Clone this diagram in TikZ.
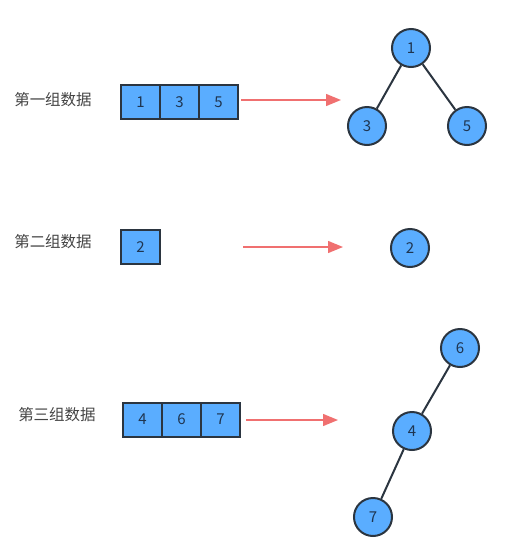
\documentclass[tikz,border=0pt]{standalone}
\usepackage{fontspec}
\setmainfont{Noto Sans CJK SC}
\usetikzlibrary{arrows.meta}
\definecolor{nodefill}{HTML}{5AADFF}
\definecolor{nodeline}{HTML}{2B3540}
\definecolor{arrowred}{HTML}{F07070}
\definecolor{labelgray}{HTML}{444444}
\definecolor{numcol}{HTML}{1F3550}
\tikzset{
  cell/.style={draw=nodeline, line width=2pt, fill=nodefill, minimum width=39pt, minimum height=34pt, inner sep=0pt, font=\fontsize{15}{15}\selectfont, text=numcol},
  treenode/.style={circle, draw=nodeline, line width=2pt, fill=nodefill, minimum size=38pt, inner sep=0pt, font=\fontsize{15}{15}\selectfont, text=numcol},
  grouplabel/.style={font=\fontsize{15.5}{15.5}\selectfont, text=labelgray},
  edge/.style={draw=nodeline, line width=2pt},
  redarrow/.style={draw=arrowred, line width=1.4pt, -{Triangle[length=15pt,width=12pt]}}
}
\begin{document}
\begin{tikzpicture}[x=1pt,y=-1pt]
\useasboundingbox (0,0) rectangle (508,555);
% group 1
\node[grouplabel] (l1) at (53,100) {第一组数据};
\node[cell] (a1) at (140.5,102) {1};
\node[cell] (a3) at (179.5,102) {3};
\node[cell] (a5) at (218.5,102) {5};
\coordinate (r1s) at (241,100);
\coordinate (r1e) at (341,100);
\draw[redarrow] (r1s) -- (r1e);
\node[treenode] (t1) at (411,48) {1};
\node[treenode] (t3) at (367,126) {3};
\node[treenode] (t5) at (467,126) {5};
\draw[edge] (t1) -- (t3);
\draw[edge] (t1) -- (t5);
% group 2
\node[grouplabel] (l2) at (53,242) {第二组数据};
\node[cell] (b2) at (140.5,247) {2};
\coordinate (r2s) at (243,247);
\coordinate (r2e) at (343,247);
\draw[redarrow] (r2s) -- (r2e);
\node[treenode] (t2) at (410,248) {2};
% group 3
\node[grouplabel] (l3) at (57,415) {第三组数据};
\node[cell] (c4) at (142.5,419.5) {4};
\node[cell] (c6) at (181.5,419.5) {6};
\node[cell] (c7) at (220.5,419.5) {7};
\coordinate (r3s) at (246,420);
\coordinate (r3e) at (338,420);
\draw[redarrow] (r3s) -- (r3e);
\node[treenode] (t6) at (460,348) {6};
\node[treenode] (t4) at (412,431) {4};
\node[treenode] (t7) at (373,517) {7};
\draw[edge] (t6) -- (t4);
\draw[edge] (t4) -- (t7);
\end{tikzpicture}
\end{document}
